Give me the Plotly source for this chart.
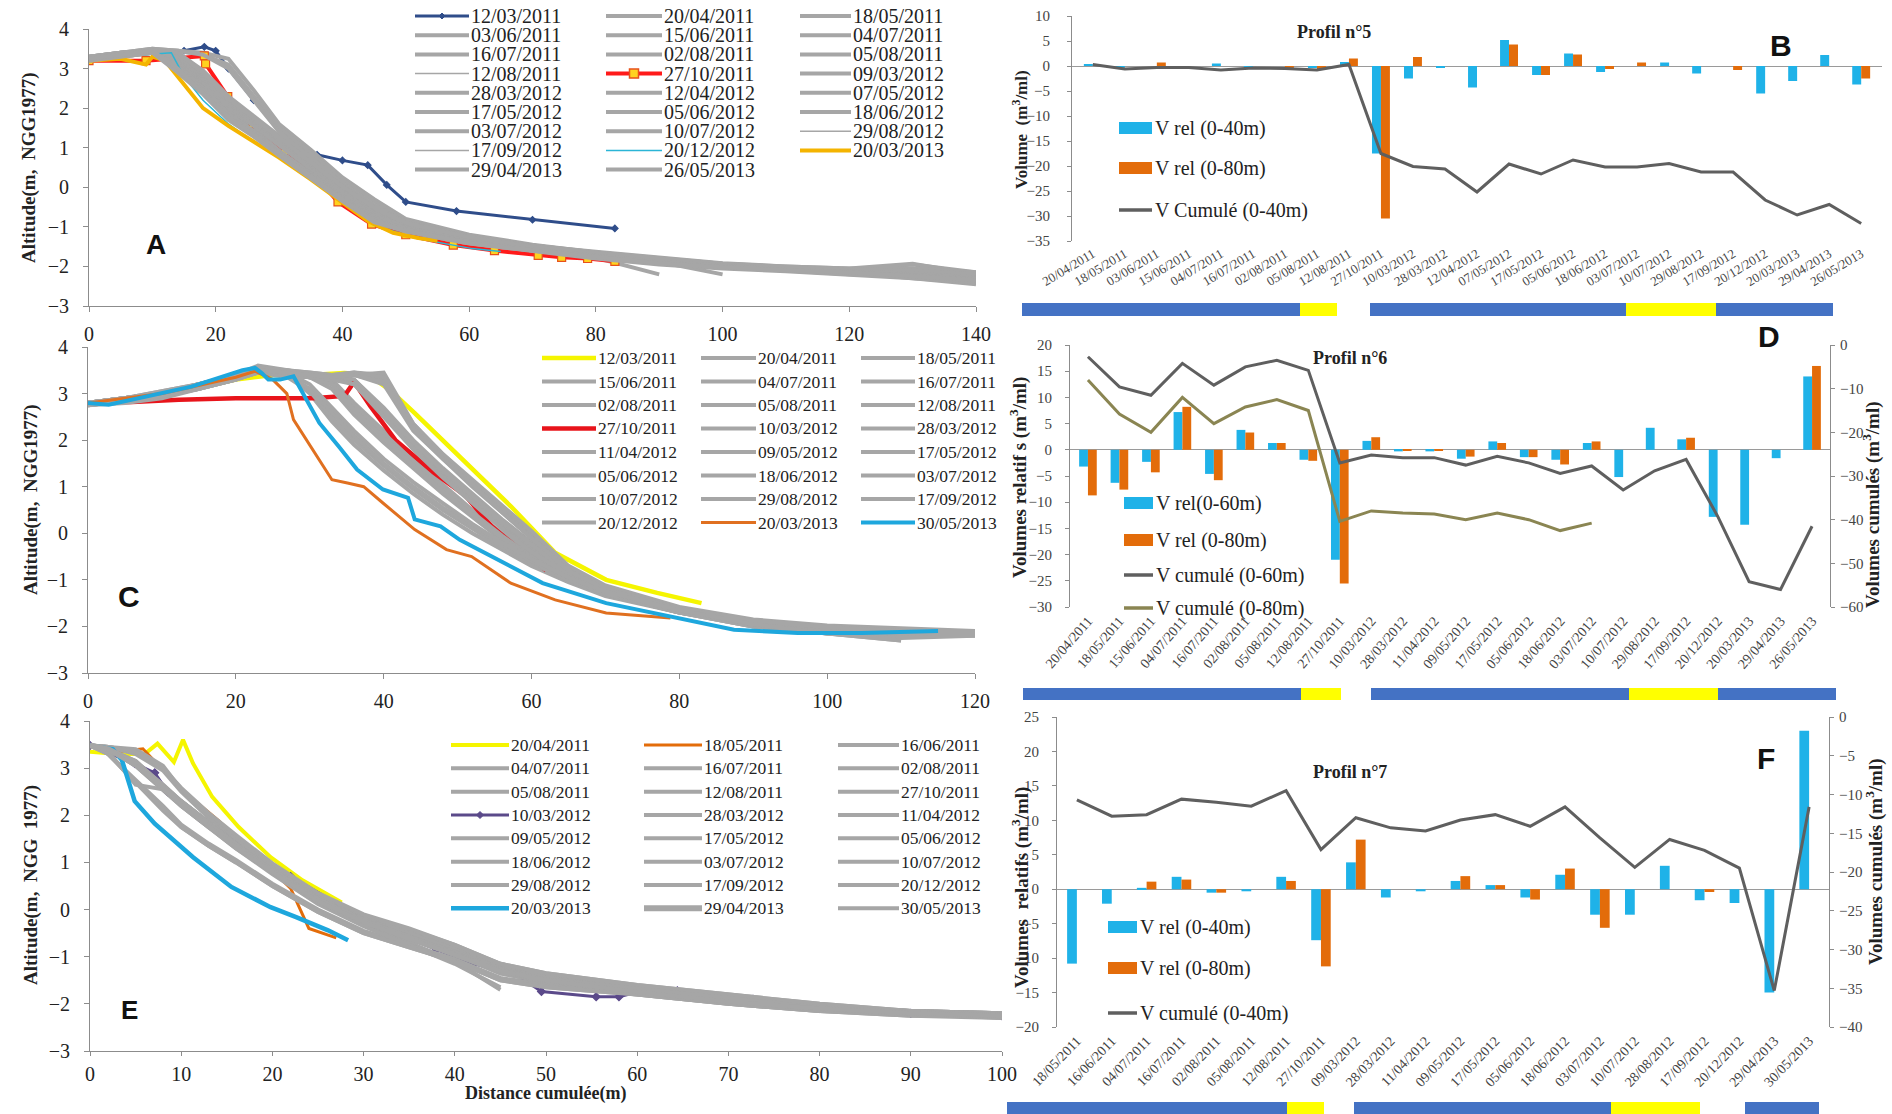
import plotly.graph_objects as go

W, H = 1892, 1114


def fx(p):
    return p / W


def fy(p):
    return 1 - p / H


SERIF = "Liberation Serif"
SANS = "Liberation Sans"
GRAY = "#a6a6a6"
AXC = "#8c8c8c"

# ---------------------------------------------------------------- Panel A data
A_DATES = ["12/03/2011", "20/04/2011", "18/05/2011", "03/06/2011", "15/06/2011", "04/07/2011",
           "16/07/2011", "02/08/2011", "05/08/2011", "12/08/2011", "27/10/2011", "09/03/2012",
           "28/03/2012", "12/04/2012", "07/05/2012", "17/05/2012", "05/06/2012", "18/06/2012",
           "03/07/2012", "10/07/2012", "29/08/2012", "17/09/2012", "20/12/2012", "20/03/2013",
           "29/04/2013", "26/05/2013"]
A_BLUE_X = [0, 5, 10, 15, 18.2, 20, 22, 26, 30, 33, 36, 40, 44, 47, 50, 58, 70, 83]
A_BLUE_Y = [3.2, 3.3, 3.4, 3.45, 3.55, 3.45, 3.0, 2.2, 1.5, 1.05, 0.82, 0.68, 0.56, 0.06, -0.37, -0.6, -0.82, -1.04]
A_RED_X = [0, 9, 18.2, 18.4, 21.9, 25.9, 31, 35.5, 39.3, 44.6, 50, 57.5, 64, 70.9, 74.6, 78.7, 83]
A_RED_Y = [3.2, 3.2, 3.32, 3.12, 2.29, 1.6, 0.93, 0.33, -0.37, -0.93, -1.2, -1.46, -1.6, -1.72, -1.77, -1.8, -1.87]
A_CYAN_X = [0, 8, 13, 15, 18, 22, 26, 30, 35, 40, 45, 52, 60.5, 65]
A_CYAN_Y = [3.25, 3.35, 3.4, 2.8, 2.2, 1.6, 1.15, 0.75, 0.2, -0.4, -0.96, -1.3, -1.55, -1.62]
A_GOLD_X = [0, 5, 9, 10, 12, 15, 18, 22, 26, 30, 35, 40, 44, 48, 52, 55]
A_GOLD_Y = [3.2, 3.25, 3.1, 3.3, 3.2, 2.6, 2.0, 1.55, 1.15, 0.75, 0.2, -0.4, -0.85, -1.15, -1.28, -1.35]

A_GRID = [0, 5, 10, 14, 18, 22, 26, 30, 35, 40, 45, 50, 60, 70, 80, 90, 100, 110, 120, 130, 140]
A_GRAY_DATES = ["20/04/2011", "18/05/2011", "03/06/2011", "15/06/2011", "04/07/2011", "16/07/2011",
                "02/08/2011", "05/08/2011", "12/08/2011", "09/03/2012", "28/03/2012", "12/04/2012",
                "07/05/2012", "17/05/2012", "05/06/2012", "18/06/2012", "03/07/2012", "10/07/2012",
                "29/08/2012", "17/09/2012", "29/04/2013", "26/05/2013"]
A_GRAY_Y = [
    [3.25, 3.35, 3.45, 3.3, 2.8, 2.15, 1.65, 1.15, 0.55, -0.05, -0.6, -0.95, -1.3, -1.52, -1.7, -1.85, -1.95, -2.02, -2.08, -2.12, -2.2],
    [3.2, 3.3, 3.4, 3.15, 2.55, 1.9, 1.45, 0.95, 0.35, -0.2, -0.75, -1.05, -1.38, -1.58, -1.75, -1.9, -2.0, -2.08, -2.12, -2.2, -2.3],
    [3.25, 3.35, 3.45, 3.05, 2.45, 1.8, 1.35, 0.85, 0.3, -0.3, -0.85, -1.1, -1.4, -1.6, -1.78, -1.92, -2.02, -2.1, -2.15, -2.25, -2.4],
    [3.3, 3.4, 3.5, 3.45, 3.4, 3.25, 2.45, 1.6, 0.95, 0.25, -0.3, -0.8, -1.2, -1.45, -1.65, -1.8, -1.93, -2.02, -2.08, -1.95, -2.15],
    [3.2, 3.35, 3.4, 2.95, 2.4, 1.75, 1.3, 0.8, 0.25, -0.35, -0.9, -1.15, -1.42, -1.62, -1.78, -2.2, None, None, None, None, None],
    [3.25, 3.4, 3.45, 3.25, 2.7, 2.05, 1.6, 1.1, 0.5, -0.1, -0.65, -1.0, -1.33, -1.55, -1.72, -1.88, -2.2, None, None, None, None],
    [3.3, 3.4, 3.45, 3.45, 3.35, 3.1, 2.3, 1.5, 0.85, 0.2, -0.35, -0.85, -1.22, -1.47, -1.66, -1.82, -1.95, -2.03, -2.08, -2.18, -2.35],
    [3.2, 3.3, 3.4, 3.1, 2.5, 1.85, 1.4, 0.9, 0.3, -0.25, -0.8, -1.1, -1.4, -1.6, -1.78, -1.93, -2.0, -2.1, -2.15, -2.3, -2.45],
    [3.25, 3.35, 3.4, 3.2, 2.6, 1.95, 1.5, 1.0, 0.4, -0.15, -0.7, -1.05, -1.37, -1.57, -1.73, -1.88, -1.97, -2.05, -2.1, -2.15, -2.2],
    [3.2, 3.35, 3.45, 3.35, 2.85, 2.2, 1.7, 1.2, 0.6, 0.0, -0.55, -0.92, -1.28, -1.5, -1.68, -1.84, -1.95, -2.03, -2.08, -2.05, -2.3],
    [3.25, 3.35, 3.4, 3.2, 2.65, 2.0, 1.55, 1.05, 0.45, -0.1, -0.65, -1.0, -1.35, -1.55, -1.74, -1.9, -2.0, -2.08, -2.13, -2.2, -2.35],
    [3.3, 3.4, 3.45, 3.4, 2.95, 2.3, 1.8, 1.3, 0.65, 0.05, -0.5, -0.88, -1.25, -1.47, -1.65, -1.8, -1.93, -2.0, -2.05, -1.93, -2.2],
    [3.2, 3.35, 3.4, 3.05, 2.45, 1.8, 1.35, 0.88, 0.3, -0.28, -0.82, -1.1, -1.4, -1.6, -1.76, -1.9, -2.0, -2.1, -2.15, -2.2, -2.3],
    [3.25, 3.35, 3.45, 3.3, 2.75, 2.1, 1.62, 1.12, 0.5, -0.08, -0.62, -0.98, -1.32, -1.53, -1.7, -1.86, -1.96, -2.04, -2.1, -2.15, -2.25],
    [3.3, 3.4, 3.5, 3.45, 3.35, 3.0, 2.2, 1.4, 0.75, 0.1, -0.45, -0.9, -1.25, -1.48, -1.63, -1.78, -1.92, -2.0, -2.05, -2.05, -2.15],
    [3.2, 3.3, 3.4, 3.1, 2.5, 1.85, 1.42, 0.92, 0.35, -0.22, -0.78, -1.08, -1.38, -1.58, -1.76, -1.9, -2.0, -2.1, -2.2, -2.25, -2.4],
    [3.25, 3.35, 3.45, 3.3, 2.7, 2.05, 1.58, 1.08, 0.48, -0.12, -0.68, -1.02, -1.35, -1.56, -1.72, -1.88, -1.98, -2.08, -2.13, -2.2, -2.3],
    [3.3, 3.4, 3.45, 3.4, 2.9, 2.25, 1.75, 1.25, 0.62, 0.02, -0.52, -0.9, -1.27, -1.5, -1.66, -1.8, -1.94, -2.03, -2.08, -2.1, -2.2],
    [3.2, 3.3, 3.4, 3.15, 2.55, 1.9, 1.45, 0.95, 0.38, -0.18, -0.72, -1.05, -1.37, -1.6, -1.75, -1.9, -2.0, -2.1, -2.15, -2.2, -2.25],
    [3.25, 3.35, 3.4, 3.25, 2.7, 2.05, 1.6, 1.1, 0.5, -0.08, -0.62, -1.0, -1.33, -1.55, -1.7, -1.85, -1.95, -2.05, -2.1, -2.15, -2.25],
    [3.2, 3.3, 3.4, 2.9, 2.35, 1.7, 1.28, 0.8, 0.22, -0.35, -0.88, -1.12, -1.42, -1.62, -1.8, -1.95, -2.05, -2.12, -2.2, -2.3, -2.4],
    [3.25, 3.35, 3.45, 3.0, 2.4, 1.78, 1.32, 0.84, 0.27, -0.3, -0.85, -1.1, -1.4, -1.6, -1.77, -1.92, -2.02, -2.1, -2.15, -2.25, -2.35],
]

# ---------------------------------------------------------------- Panel C data
C_DATES = ["12/03/2011", "20/04/2011", "18/05/2011", "15/06/2011", "04/07/2011", "16/07/2011",
           "02/08/2011", "05/08/2011", "12/08/2011", "27/10/2011", "10/03/2012", "28/03/2012",
           "11/04/2012", "09/05/2012", "17/05/2012", "05/06/2012", "18/06/2012", "03/07/2012",
           "10/07/2012", "29/08/2012", "17/09/2012", "20/12/2012", "20/03/2013", "30/05/2013"]
C_YELLOW_X = [0, 10, 20, 25, 30, 34.7, 38, 40.8, 44.2, 50.3, 57.2, 63.2, 70.1, 77, 83]
C_YELLOW_Y = [2.8, 2.95, 3.3, 3.4, 3.4, 3.44, 3.4, 3.08, 2.58, 1.65, 0.58, -0.42, -1.0, -1.28, -1.5]
C_RED_X = [0, 6, 12.3, 20, 30.4, 34.7, 36, 38.2, 41.6, 46.8, 51.1, 54.6, 58, 62]
C_RED_Y = [2.8, 2.82, 2.87, 2.9, 2.9, 2.95, 3.25, 2.73, 2.0, 1.3, 0.8, 0.15, -0.3, -0.8]
C_ORANGE_X = [0, 10, 20, 22.6, 25, 26.9, 27.8, 30.4, 33, 35.1, 37.3, 39.9, 44.2, 48.5, 51.9, 57.2, 63.2, 70.1, 78.8]
C_ORANGE_Y = [2.8, 3.0, 3.35, 3.48, 3.3, 3.0, 2.44, 1.8, 1.15, 1.08, 1.0, 0.65, 0.08, -0.35, -0.5, -1.07, -1.43, -1.71, -1.82]
C_CYAN_X = [0, 2.8, 14, 20.9, 22.6, 23.5, 24.4, 26, 27.8, 29.1, 31.3, 33.9, 36.4, 39.9, 42.5, 43.3, 44.2,
            47.7, 50.3, 55.4, 61.5, 70.1, 78.8, 87.4, 96, 104.7, 115]
C_CYAN_Y = [2.8, 2.76, 3.15, 3.5, 3.55, 3.44, 3.3, 3.3, 3.37, 3.0, 2.37, 1.87, 1.37, 0.94, 0.8, 0.76, 0.3,
            0.15, -0.14, -0.57, -1.07, -1.5, -1.78, -2.07, -2.14, -2.14, -2.1]

C_GRID = [0, 5, 10, 15, 20, 23, 27, 30, 33, 36, 40, 44, 48, 52, 56, 60, 65, 70, 80, 90, 100, 110, 120]
C_GRAY_DATES = ["20/04/2011", "18/05/2011", "15/06/2011", "04/07/2011", "16/07/2011", "02/08/2011",
                "05/08/2011", "12/08/2011", "10/03/2012", "28/03/2012", "11/04/2012", "09/05/2012",
                "17/05/2012", "05/06/2012", "18/06/2012", "03/07/2012", "10/07/2012", "29/08/2012",
                "17/09/2012", "20/12/2012"]
C_GRAY_Y = [
    [2.8, 2.9, 3.0, 3.15, 3.35, 3.5, 3.45, 3.4, 3.4, 3.4, 3.45, 2.35, 1.7, 1.1, 0.55, 0.0, -0.75, -1.15, -1.6, -1.88, -2.02, -2.1, -2.15],
    [2.8, 2.85, 2.95, 3.1, 3.3, 3.45, 3.4, 3.35, 3.35, 3.3, 2.7, 2.0, 1.4, 0.85, 0.3, -0.2, -0.8, -1.2, -1.62, -1.9, -2.05, -2.15, -2.15],
    [2.75, 2.85, 2.95, 3.1, 3.35, 3.5, 3.4, 3.0, 2.4, 1.9, 1.35, 0.85, 0.4, 0.0, -0.35, -0.7, -1.05, -1.35, -1.7, -2.0, -2.15, -2.25, None],
    [2.8, 2.9, 3.0, 3.2, 3.4, 3.55, 3.45, 3.4, 3.3, 2.8, 2.2, 1.6, 1.05, 0.5, 0.0, -0.45, -0.9, -1.25, -1.65, -1.95, -2.1, -2.2, -2.15],
    [2.8, 2.9, 3.05, 3.2, 3.4, 3.55, 3.5, 3.45, 3.4, 3.45, 3.4, 2.3, 1.65, 1.05, 0.5, -0.05, -0.78, -1.18, -1.6, -1.88, -2.0, -2.1, -2.1],
    [2.75, 2.85, 2.95, 3.15, 3.35, 3.5, 3.45, 3.4, 3.35, 3.25, 2.6, 1.9, 1.3, 0.75, 0.2, -0.3, -0.85, -1.22, -1.62, -1.9, -2.05, -2.15, -2.15],
    [2.8, 2.85, 3.0, 3.15, 3.35, 3.5, 3.4, 3.35, 3.2, 2.7, 2.1, 1.5, 0.95, 0.4, -0.1, -0.55, -0.95, -1.3, -1.7, -2.0, -2.1, -2.2, None],
    [2.8, 2.9, 3.0, 3.2, 3.4, 3.5, 3.45, 3.4, 3.4, 3.4, 3.3, 2.3, 1.65, 1.1, 0.5, -0.05, -0.75, -1.15, -1.6, -1.88, -2.02, -2.1, -2.15],
    [2.8, 2.9, 3.0, 3.2, 3.4, 3.6, 3.5, 3.4, 3.25, 2.75, 2.15, 1.55, 1.0, 0.45, -0.05, -0.5, -0.95, -1.3, -1.7, -1.95, -2.1, -2.2, -2.15],
    [2.75, 2.8, 2.9, 3.1, 3.3, 3.45, 3.35, 3.05, 2.5, 2.0, 1.45, 0.95, 0.5, 0.1, -0.3, -0.65, -1.0, -1.3, -1.7, -2.0, -2.15, -2.3, None],
    [2.8, 2.9, 3.0, 3.15, 3.4, 3.55, 3.45, 3.4, 3.35, 3.2, 2.55, 1.85, 1.25, 0.7, 0.15, -0.35, -0.85, -1.2, -1.62, -1.9, -2.05, -2.15, -2.15],
    [2.8, 2.9, 3.0, 3.2, 3.35, 3.5, 3.45, 3.4, 3.35, 3.4, 3.2, 2.2, 1.6, 1.0, 0.45, -0.1, -0.8, -1.2, -1.62, -1.9, -2.02, -2.1, -2.1],
    [2.75, 2.85, 3.0, 3.15, 3.35, 3.5, 3.4, 3.35, 3.1, 2.55, 1.95, 1.4, 0.85, 0.35, -0.15, -0.6, -1.0, -1.3, -1.7, -1.95, -2.1, -2.2, -2.2],
    [2.8, 2.9, 3.0, 3.2, 3.4, 3.55, 3.5, 3.45, 3.4, 3.3, 2.65, 1.95, 1.35, 0.8, 0.25, -0.25, -0.8, -1.18, -1.6, -1.9, -2.05, -2.15, -2.1],
    [2.8, 2.85, 2.95, 3.15, 3.35, 3.5, 3.4, 3.1, 2.6, 2.1, 1.5, 1.0, 0.55, 0.15, -0.25, -0.6, -1.0, -1.3, -1.65, -1.95, -2.15, -2.25, -2.2],
    [2.8, 2.9, 3.05, 3.2, 3.4, 3.5, 3.45, 3.4, 3.4, 3.45, 3.35, 2.35, 1.7, 1.15, 0.6, 0.05, -0.7, -1.12, -1.58, -1.85, -1.98, -2.05, -2.1],
    [2.8, 2.9, 3.0, 3.2, 3.4, 3.5, 3.45, 3.35, 3.2, 2.65, 2.05, 1.45, 0.9, 0.4, -0.1, -0.55, -0.95, -1.25, -1.65, -1.95, -2.1, -2.15, -2.15],
    [2.8, 2.85, 2.95, 3.1, 3.3, 3.45, 3.4, 3.35, 3.3, 3.2, 2.5, 1.8, 1.2, 0.65, 0.1, -0.4, -0.88, -1.22, -1.62, -1.95, -2.1, -2.15, -2.15],
    [2.8, 2.9, 3.0, 3.15, 3.35, 3.5, 3.45, 3.4, 3.35, 3.4, 3.25, 2.25, 1.6, 1.05, 0.45, -0.1, -0.8, -1.2, -1.62, -1.88, -2.02, -2.1, -2.1],
    [2.75, 2.85, 2.95, 3.1, 3.3, 3.5, 3.45, 3.2, 2.7, 2.2, 1.6, 1.1, 0.65, 0.2, -0.2, -0.55, -0.95, -1.25, -1.65, -1.95, -2.15, -2.3, None],
]

# ---------------------------------------------------------------- Panel E data
E_DATES = ["20/04/2011", "18/05/2011", "16/06/2011", "04/07/2011", "16/07/2011", "02/08/2011",
           "05/08/2011", "12/08/2011", "27/10/2011", "10/03/2012", "28/03/2012", "11/04/2012",
           "09/05/2012", "17/05/2012", "05/06/2012", "18/06/2012", "03/07/2012", "10/07/2012",
           "29/08/2012", "17/09/2012", "20/12/2012", "20/03/2013", "29/04/2013", "30/05/2013"]
E_YELLOW_X = [0, 3, 6, 7.4, 9.2, 10.2, 11.3, 13.4, 16.3, 19.8, 23.3, 27.6]
E_YELLOW_Y = [3.35, 3.3, 3.3, 3.52, 3.13, 3.6, 3.1, 2.39, 1.75, 1.11, 0.62, 0.15]
E_ORANGE_X = [0, 3, 5.8, 8, 10, 14, 18, 22, 24, 27]
E_ORANGE_Y = [3.45, 3.35, 3.41, 2.95, 2.55, 1.9, 1.2, 0.45, -0.4, -0.6]
E_PURPLE_X = [0, 4.9, 7.1, 8.5, 12, 15.9, 22, 30, 38, 42, 46.4, 49.5, 55.5, 58, 61, 64.4, 68, 72.7, 80, 90, 100]
E_PURPLE_Y = [3.48, 3.1, 2.9, 2.5, 1.95, 1.47, 0.7, -0.2, -0.85, -1.15, -1.33, -1.74, -1.85, -1.85, -1.7,
              -1.72, -1.85, -1.9, -2.1, -2.2, -2.25]
E_CYAN_X = [0, 2.5, 3.5, 4.2, 4.9, 7.1, 11.3, 15.5, 19.8, 22.6, 26.1, 28.3]
E_CYAN_Y = [3.48, 3.4, 3.17, 2.74, 2.3, 1.82, 1.11, 0.48, 0.05, -0.16, -0.44, -0.65]

E_GRID = [0, 2, 5, 8, 10, 13, 16, 20, 25, 30, 35, 40, 45, 50, 60, 70, 80, 90, 100]
E_GRAY_DATES = ["16/06/2011", "04/07/2011", "16/07/2011", "02/08/2011", "05/08/2011", "12/08/2011",
                "27/10/2011", "28/03/2012", "11/04/2012", "09/05/2012", "17/05/2012", "05/06/2012",
                "18/06/2012", "03/07/2012", "10/07/2012", "29/08/2012", "17/09/2012", "20/12/2012",
                "29/04/2013", "30/05/2013"]
E_GRAY_Y = [
    [3.48, 3.45, 3.35, 3.0, 2.55, 2.0, 1.55, 0.95, 0.3, -0.15, -0.45, -0.8, -1.15, -1.4, -1.65, -1.85, -2.05, -2.15, -2.2],
    [3.48, 3.4, 3.1, 2.6, 2.25, 1.8, 1.35, 0.8, 0.2, -0.25, -0.6, -0.92, -1.3, -1.5, -1.7, -1.9, -2.1, -2.2, -2.25],
    [3.48, 3.4, 3.15, 2.65, 2.3, 1.85, 1.4, 0.85, 0.25, -0.2, -0.55, -0.88, -1.25, -1.45, -1.7, -1.9, -2.05, -2.2, -2.25],
    [3.48, 3.3, 2.7, 2.1, 1.75, 1.35, 1.0, 0.5, -0.05, -0.5, -0.8, -1.1, -1.5, -1.65, -1.8, -2.0, -2.15, -2.25, -2.3],
    [3.48, 3.45, 3.4, 3.05, 2.55, 2.0, 1.5, 0.9, 0.28, -0.18, -0.5, -0.82, -1.2, -1.45, -1.65, -1.85, -2.05, -2.15, -2.2],
    [3.48, 3.4, 3.1, 2.6, 2.2, 1.75, 1.35, 0.8, 0.18, -0.3, -0.7, -1.1, -1.7, None, None, None, None, None, None],
    [3.48, 3.4, 3.05, 2.55, 2.2, 1.75, 1.3, 0.8, 0.2, -0.25, -0.62, -0.95, -1.35, -1.55, -1.75, -1.95, -2.1, -2.2, -2.25],
    [3.48, 3.35, 2.65, 2.55, 2.3, 1.85, 1.4, 0.85, 0.22, -0.25, -0.62, -0.95, -1.3, -1.5, -1.7, -1.9, -2.1, -2.2, -2.25],
    [3.48, 3.45, 3.3, 2.95, 2.5, 1.95, 1.5, 0.9, 0.28, -0.15, -0.48, -0.85, -1.2, -1.4, -1.65, -1.85, -2.05, -2.15, -2.2],
    [3.48, 3.4, 3.1, 2.6, 2.25, 1.8, 1.35, 0.82, 0.2, -0.25, -0.62, -0.95, -1.3, -1.5, -1.75, -1.95, -2.1, -2.2, -2.25],
    [3.48, 3.3, 2.75, 2.2, 1.8, 1.4, 1.05, 0.55, 0.0, -0.45, -0.75, -1.05, -1.45, -1.6, -1.8, -2.0, -2.15, -2.2, -2.3],
    [3.48, 3.4, 3.05, 2.55, 2.2, 1.75, 1.3, 0.75, 0.12, -0.35, -0.75, -1.15, -1.65, None, None, None, None, None, None],
    [3.48, 3.4, 3.1, 2.65, 2.3, 1.85, 1.4, 0.85, 0.22, -0.22, -0.58, -0.9, -1.3, -1.5, -1.7, -1.9, -2.05, -2.2, -2.25],
    [3.48, 3.45, 3.35, 3.0, 2.55, 2.0, 1.52, 0.92, 0.32, -0.12, -0.42, -0.75, -1.15, -1.35, -1.6, -1.8, -2.0, -2.15, -2.2],
    [3.48, 3.4, 3.1, 2.6, 2.22, 1.78, 1.33, 0.8, 0.18, -0.26, -0.62, -0.95, -1.35, -1.55, -1.75, -1.95, -2.1, -2.2, -2.25],
    [3.48, 3.3, 2.7, 2.15, 1.75, 1.35, 1.0, 0.5, -0.05, -0.5, -0.8, -1.1, -1.5, -1.65, -1.8, -2.0, -2.15, -2.25, -2.25],
    [3.48, 3.4, 3.15, 2.65, 2.3, 1.85, 1.38, 0.85, 0.22, -0.22, -0.58, -0.9, -1.25, -1.5, -1.7, -1.9, -2.05, -2.2, -2.2],
    [3.48, 3.45, 3.35, 3.0, 2.58, 2.05, 1.58, 0.98, 0.35, -0.1, -0.4, -0.75, -1.15, -1.35, -1.6, -1.8, -2.0, -2.15, -2.2],
    [3.48, 3.4, 3.1, 2.6, 2.25, 1.8, 1.35, 0.82, 0.2, -0.25, -0.6, -0.92, -1.3, -1.5, -1.7, -1.9, -2.1, -2.2, -2.25],
    [3.48, 3.4, 3.05, 2.6, 2.22, 1.78, 1.32, 0.8, 0.18, -0.26, -0.62, -0.95, -1.3, -1.5, -1.75, -1.95, -2.1, -2.2, -2.25],
]

# ---------------------------------------------------------------- Panel B data
B_CATS = ["20/04/2011", "18/05/2011", "03/06/2011", "15/06/2011", "04/07/2011", "16/07/2011",
          "02/08/2011", "05/08/2011", "12/08/2011", "27/10/2011", "10/03/2012", "28/03/2012",
          "12/04/2012", "07/05/2012", "17/05/2012", "05/06/2012", "18/06/2012", "03/07/2012",
          "10/07/2012", "29/08/2012", "17/09/2012", "20/12/2012", "20/03/2013", "29/04/2013", "26/05/2013"]
B_V40 = [0.3, -0.5, 0, -0.5, 0.5, -0.3, 0, -0.3, 0.8, -17.5, -2.5, -0.3, -4.3, 5.2, -1.8, 2.5, -1.2, 0,
         0.7, -1.5, 0, -5.5, -3.0, 2.2, -3.7]
B_V80 = [0, 0, 0.7, 0, 0, 0, -0.8, -0.6, 1.5, -30.5, 1.8, 0, 0, 4.3, -1.8, 2.3, -0.6, 0.7, 0, 0, -0.8,
         0, 0, 0, -2.5]
B_CUM40 = [0.3, -0.6, -0.3, -0.3, -0.8, -0.4, -0.5, -0.8, 0.3, -17.5, -20.1, -20.6, -25.2, -19.6, -21.6,
           -18.8, -20.2, -20.2, -19.5, -21.2, -21.2, -26.8, -29.8, -27.7, -31.5]

# ---------------------------------------------------------------- Panel D data
D_CATS = ["20/04/2011", "18/05/2011", "15/06/2011", "04/07/2011", "16/07/2011", "02/08/2011",
          "05/08/2011", "12/08/2011", "27/10/2011", "10/03/2012", "28/03/2012", "11/04/2012",
          "09/05/2012", "17/05/2012", "05/06/2012", "18/06/2012", "03/07/2012", "10/07/2012",
          "29/08/2012", "17/09/2012", "20/12/2012", "20/03/2013", "29/04/2013", "26/05/2013"]
D_V60 = [-3.2, -6.3, -2.3, 7.2, -4.6, 3.8, 1.3, -1.9, -21, 1.7, -0.3, -0.3, -1.7, 1.6, -1.4, -1.9, 1.3,
         -5.2, 4.2, 2.0, -12.8, -14.3, -1.6, 14]
D_V80 = [-8.7, -7.6, -4.3, 8.2, -5.8, 3.3, 1.3, -2.1, -25.5, 2.4, -0.2, -0.2, -1.3, 1.3, -1.4, -2.8, 1.6,
         0, 0, 2.3, 0, 0, 0, 16]
D_CUM60 = [-2.7, -9.6, -11.5, -4.2, -9.2, -5.0, -3.5, -5.8, -27, -25.2, -25.8, -25.8, -27.5, -25.5, -27,
           -29.4, -27.7, -33.2, -28.8, -26.2, -39.2, -54.2, -56, -41.5]
D_CUM80 = [-8, -15.8, -20, -12, -18, -14.2, -12.5, -15, -40.4, -38, -38.5, -38.7, -40, -38.5, -40, -42.5,
           -40.8, None, None, None, None, None, None, None]

# ---------------------------------------------------------------- Panel F data
F_CATS = ["18/05/2011", "16/06/2011", "04/07/2011", "16/07/2011", "02/08/2011", "05/08/2011",
          "12/08/2011", "27/10/2011", "09/03/2012", "28/03/2012", "11/04/2012", "09/05/2012",
          "17/05/2012", "05/06/2012", "18/06/2012", "03/07/2012", "10/07/2012", "28/08/2012",
          "17/09/2012", "20/12/2012", "29/04/2013", "30/05/2013"]
F_V40 = [-10.8, -2.1, 0.2, 1.8, -0.5, -0.3, 1.8, -7.4, 3.9, -1.2, -0.3, 1.2, 0.6, -1.2, 2.1, -3.7, -3.7,
         3.4, -1.6, -2.0, -15, 23]
F_V80 = [0, 0, 1.1, 1.4, -0.5, 0, 1.2, -11.2, 7.2, 0, 0, 1.9, 0.6, -1.5, 3.0, -5.6, 0, 0, -0.4, 0, 0, 0]
F_CUM40 = [-10.7, -12.8, -12.6, -10.6, -11.0, -11.5, -9.5, -17.1, -13.0, -14.3, -14.7, -13.3, -12.6, -14.1,
           -11.6, -15.6, -19.4, -15.8, -17.2, -19.5, -35.3, -11.6]

# ---------------------------------------------------------------- styles
THIN = dict(color=GRAY, width=1.5)
THICK_GRAY = dict(color=GRAY, width=4)
A_STYLE = {
    "12/03/2011": dict(color="#2f4d8a", width=3, symbol="diamond", msize=5, mcolor="#2f4d8a", mline="#2f4d8a"),
    "27/10/2011": dict(color="#ff1a1a", width=4, symbol="square", msize=8, mcolor="#ffd21f", mline="#e8501a"),
    "20/12/2012": dict(color="#2bb5d6", width=1.5),
    "20/03/2013": dict(color="#f4b400", width=4),
    "12/08/2011": THIN, "29/08/2012": THIN, "17/09/2012": THIN,
}
C_STYLE = {
    "12/03/2011": dict(color="#f5f500", width=4.5),
    "27/10/2011": dict(color="#e8141b", width=4.5),
    "20/03/2013": dict(color="#e07020", width=3),
    "30/05/2013": dict(color="#1ea7dd", width=4),
}
E_STYLE = {
    "20/04/2011": dict(color="#f5f500", width=4),
    "18/05/2011": dict(color="#e36c0a", width=3),
    "10/03/2012": dict(color="#5b4a8a", width=3, symbol="diamond", msize=6, mcolor="#5b4a8a", mline="#5b4a8a"),
    "20/03/2013": dict(color="#1ea7dd", width=4.5),
    "29/04/2013": dict(color=GRAY, width=6),
}
C_BLUE = "#1fb2e8"
C_ORNG = "#e36c0a"
C_DARK = "#5f5f5f"
C_OLIVE = "#8a8552"

fig = go.Figure()


def add_profiles(dates, colored, grid, gray_dates, gray_y, style, xa, ya):
    for d in dates:
        st = style.get(d, THICK_GRAY)
        if d in colored:
            xs, ys = colored[d]
        else:
            xs, ys = grid, gray_y[gray_dates.index(d)]
        mk = "symbol" in st
        fig.add_trace(go.Scatter(
            x=xs, y=ys, name=d, mode="lines+markers" if mk else "lines",
            line=dict(color=st["color"], width=st["width"]),
            marker=dict(symbol=st.get("symbol", "circle"), size=st.get("msize", 6),
                        color=st.get("mcolor", st["color"]),
                        line=dict(color=st.get("mline", st["color"]), width=1.2)),
            xaxis=xa, yaxis=ya, showlegend=False, connectgaps=False))


add_profiles(A_DATES, {"12/03/2011": (A_BLUE_X, A_BLUE_Y), "27/10/2011": (A_RED_X, A_RED_Y),
                       "20/12/2012": (A_CYAN_X, A_CYAN_Y), "20/03/2013": (A_GOLD_X, A_GOLD_Y)},
             A_GRID, A_GRAY_DATES, A_GRAY_Y, A_STYLE, "x", "y")
add_profiles(C_DATES, {"12/03/2011": (C_YELLOW_X, C_YELLOW_Y), "27/10/2011": (C_RED_X, C_RED_Y),
                       "20/03/2013": (C_ORANGE_X, C_ORANGE_Y), "30/05/2013": (C_CYAN_X, C_CYAN_Y)},
             C_GRID, C_GRAY_DATES, C_GRAY_Y, C_STYLE, "x2", "y2")
add_profiles(E_DATES, {"20/04/2011": (E_YELLOW_X, E_YELLOW_Y), "18/05/2011": (E_ORANGE_X, E_ORANGE_Y),
                       "10/03/2012": (E_PURPLE_X, E_PURPLE_Y), "20/03/2013": (E_CYAN_X, E_CYAN_Y)},
             E_GRID, E_GRAY_DATES, E_GRAY_Y, E_STYLE, "x3", "y3")

# bars + cumulated lines
fig.add_trace(go.Bar(x=B_CATS, y=B_V40, name="V rel (0-40m)", marker_color=C_BLUE, xaxis="x4", yaxis="y4", showlegend=False))
fig.add_trace(go.Bar(x=B_CATS, y=B_V80, name="V rel (0-80m)", marker_color=C_ORNG, xaxis="x4", yaxis="y4", showlegend=False))
fig.add_trace(go.Scatter(x=B_CATS, y=B_CUM40, name="V Cumulé (0-40m)", mode="lines", line=dict(color=C_DARK, width=3),
                         xaxis="x4", yaxis="y4", showlegend=False))

fig.add_trace(go.Bar(x=D_CATS, y=D_V60, name="V rel(0-60m)", marker_color=C_BLUE, xaxis="x5", yaxis="y5", showlegend=False))
fig.add_trace(go.Bar(x=D_CATS, y=D_V80, name="V rel (0-80m)", marker_color=C_ORNG, xaxis="x5", yaxis="y5", showlegend=False))
fig.add_trace(go.Scatter(x=D_CATS, y=D_CUM60, name="V cumulé (0-60m)", mode="lines", line=dict(color=C_DARK, width=3),
                         xaxis="x5", yaxis="y6", showlegend=False))
fig.add_trace(go.Scatter(x=D_CATS, y=D_CUM80, name="V cumulé (0-80m)", mode="lines", line=dict(color=C_OLIVE, width=3),
                         xaxis="x5", yaxis="y6", showlegend=False, connectgaps=False))

fig.add_trace(go.Bar(x=F_CATS, y=F_V40, name="V rel (0-40m)", marker_color=C_BLUE, xaxis="x6", yaxis="y7", showlegend=False))
fig.add_trace(go.Bar(x=F_CATS, y=F_V80, name="V rel (0-80m)", marker_color=C_ORNG, xaxis="x6", yaxis="y7", showlegend=False))
fig.add_trace(go.Scatter(x=F_CATS, y=F_CUM40, name="V cumulé (0-40m)", mode="lines", line=dict(color=C_DARK, width=3),
                         xaxis="x6", yaxis="y8", showlegend=False))

# ---------------------------------------------------------------- axes
TF_L = dict(family=SERIF, size=20, color="#222")
TF_R = dict(family=SERIF, size=15, color="#444")


def lin_axis(x0, x1, rng, dtick, anchor, font=TF_L, standoff=4, **kw):
    d = dict(domain=[x0, x1], range=rng, dtick=dtick, anchor=anchor, showline=True, linecolor=AXC,
             linewidth=1, ticks="outside", ticklen=5, tickcolor=AXC, showgrid=False, zeroline=False,
             tickfont=font, ticklabelstandoff=standoff, fixedrange=True, automargin=False)
    d.update(kw)
    return d


def cat_axis(x0, x1, rng, anchor, angle, fsize):
    return dict(domain=[x0, x1], range=rng, type="category", anchor=anchor, showline=False, ticks="",
                showgrid=False, zeroline=False, tickangle=angle,
                tickfont=dict(family=SERIF, size=fsize, color="#444"), ticklabelstandoff=2,
                automargin=False, fixedrange=True)


layout = dict(
    template="none",
    width=W, height=H, margin=dict(l=0, r=0, t=0, b=0, autoexpand=False), paper_bgcolor="white",
    plot_bgcolor="rgba(0,0,0,0)",
    showlegend=False, barmode="group", bargap=0.44, bargroupgap=0.0,
    xaxis=lin_axis(fx(89), fx(976), [0, 140], 20, "y", standoff=5),
    yaxis=lin_axis(fy(306), fy(29), [-3, 4], 1, "x", standoff=10),
    xaxis2=lin_axis(fx(88), fx(975), [0, 120], 20, "y2", standoff=5),
    yaxis2=lin_axis(fy(673), fy(347), [-3, 4], 1, "x2", standoff=10),
    xaxis3=lin_axis(fx(90), fx(1002), [0, 100], 10, "y3", standoff=1, ticklen=4),
    yaxis3=lin_axis(fy(1051), fy(721), [-3, 4], 1, "x3", standoff=10),
    xaxis4=cat_axis(fx(1072), fx(1882), [-0.65, 24.65], "y4", -31, 13),
    yaxis4=lin_axis(fy(241), fy(16), [-35, 10], 5, "x4", font=TF_R, standoff=14,
                    zeroline=True, zerolinecolor="#9a9a9a", zerolinewidth=1, ticklen=4),
    xaxis5=cat_axis(fx(1070), fx(1830), [-0.57, 23.57], "y5", -49, 14),
    yaxis5=lin_axis(fy(607), fy(345), [-30, 20], 5, "x5", font=TF_R, standoff=10,
                    zeroline=True, zerolinecolor="#9a9a9a", zerolinewidth=1, ticklen=4),
    yaxis6=lin_axis(fy(607), fy(345), [-60, 0], 10, "x5", font=TF_R, standoff=2,
                    overlaying="y5", side="right", ticklen=4),
    xaxis6=cat_axis(fx(1057), fx(1829), [-0.57, 21.57], "y7", -46, 14),
    yaxis7=lin_axis(fy(1027), fy(717), [-20, 25], 5, "x6", font=TF_R, standoff=10,
                    zeroline=True, zerolinecolor="#9a9a9a", zerolinewidth=1, ticklen=4),
    yaxis8=lin_axis(fy(1027), fy(717), [-40, 0], 5, "x6", font=TF_R, standoff=2,
                    overlaying="y7", side="right", ticklen=4),
)
fig.update_layout(**layout)

shapes = []
annotations = []


def seg(x0, y0, x1, y1, color, width):
    return dict(type="line", xref="paper", yref="paper", x0=fx(x0), y0=fy(y0), x1=fx(x1), y1=fy(y1),
                line=dict(color=color, width=width), layer="above")


def text(x, y, s, size, family=SERIF, bold=False, xanchor="left", angle=0, color="#222"):
    annotations.append(dict(x=fx(x), y=fy(y), xref="paper", yref="paper", text=f"<b>{s}</b>" if bold else s,
                            showarrow=False, xanchor=xanchor, yanchor="middle", textangle=angle,
                            font=dict(family=family, size=size, color=color)))


def marker_shape(cx, cy, st):
    s = st["msize"] / 2 + 0.5
    if st["symbol"] == "square":
        shapes.append(dict(type="rect", xref="paper", yref="paper", x0=fx(cx - s), x1=fx(cx + s),
                           y0=fy(cy + s), y1=fy(cy - s), fillcolor=st["mcolor"],
                           line=dict(color=st["mline"], width=1.5)))
    else:
        path = (f"M {fx(cx)} {fy(cy - s)} L {fx(cx + s)} {fy(cy)} L {fx(cx)} {fy(cy + s)} "
                f"L {fx(cx - s)} {fy(cy)} Z")
        shapes.append(dict(type="path", xref="paper", yref="paper", path=path, fillcolor=st["mcolor"],
                           line=dict(color=st["mline"], width=1)))


def profile_legend(dates, style, sample_x, text_x, rows, size):
    for i, d in enumerate(dates):
        r, c = divmod(i, 3)
        st = style.get(d, THICK_GRAY)
        y = rows[r]
        shapes.append(seg(sample_x[c][0], y, sample_x[c][1], y, st["color"], st["width"]))
        if "symbol" in st:
            marker_shape((sample_x[c][0] + sample_x[c][1]) / 2, y, st)
        text(text_x[c], y, d, size)


profile_legend(A_DATES, A_STYLE, [(415, 469), (606, 662), (800, 851)], [469, 662, 851],
               [16, 35.2, 54.4, 73.6, 92.8, 112, 131.2, 150.4, 169.6], 20)
profile_legend(C_DATES, C_STYLE, [(542, 596), (701, 756), (861, 915)], [596, 756, 915],
               [358, 381.5, 405, 428.5, 452, 475.5, 499, 522.5], 17.5)
profile_legend(E_DATES, E_STYLE, [(451, 509), (644, 702), (838, 899)], [509, 702, 899],
               [745, 768.3, 791.7, 815, 838.3, 861.7, 885, 908.3], 17.5)


def box_legend(entries, x0, x1, tx, size):
    for label, color, kind, y in entries:
        if kind == "bar":
            shapes.append(dict(type="rect", xref="paper", yref="paper", x0=fx(x0), x1=fx(x1),
                               y0=fy(y + 6), y1=fy(y - 6), fillcolor=color, line=dict(width=0)))
        else:
            shapes.append(seg(x0, y, x1, y, color, 3.5))
        text(tx, y, label, size)


box_legend([("V rel (0-40m)", C_BLUE, "bar", 128), ("V rel (0-80m)", C_ORNG, "bar", 168),
            ("V Cumulé (0-40m)", C_DARK, "line", 210)], 1119, 1152, 1153, 20)
box_legend([("V rel(0-60m)", C_BLUE, "bar", 503), ("V rel (0-80m)", C_ORNG, "bar", 540),
            ("V cumulé (0-60m)", C_DARK, "line", 575), ("V cumulé (0-80m)", C_OLIVE, "line", 608)],
           1124, 1153, 1154, 20)
box_legend([("V rel (0-40m)", C_BLUE, "bar", 927), ("V rel (0-80m)", C_ORNG, "bar", 968),
            ("V cumulé (0-40m)", C_DARK, "line", 1013)], 1108, 1137, 1138, 20)

# season bars under the volume panels
SEASON_BLUE = "#4472c4"
SEASON_YEL = "#ffff00"
for (y0, y1, segs) in [
    (303, 316, [(1022, 1300, SEASON_BLUE), (1300, 1337, SEASON_YEL), (1370, 1626, SEASON_BLUE),
                (1626, 1716, SEASON_YEL), (1716, 1833, SEASON_BLUE)]),
    (688, 700, [(1023, 1301, SEASON_BLUE), (1301, 1341, SEASON_YEL), (1371, 1629, SEASON_BLUE),
                (1629, 1718, SEASON_YEL), (1718, 1836, SEASON_BLUE)]),
    (1102, 1114, [(1007, 1287, SEASON_BLUE), (1287, 1324, SEASON_YEL), (1354, 1611, SEASON_BLUE),
                  (1611, 1700, SEASON_YEL), (1745, 1819, SEASON_BLUE)]),
]:
    for (a, b, col) in segs:
        shapes.append(dict(type="rect", xref="paper", yref="paper", x0=fx(a), x1=fx(b), y0=fy(y1), y1=fy(y0),
                           fillcolor=col, line=dict(width=0), layer="below"))

# panel letters
for (lx, ly, s, sz) in [(156, 244, "A", 28), (1781, 46, "B", 30), (129, 596, "C", 30),
                        (1769, 336, "D", 30), (129, 1010, "E", 26), (1766, 758, "F", 30)]:
    text(lx, ly, s, sz, family=SANS, bold=True, xanchor="center", color="#111")

# subplot titles
text(1334, 32, "Profil n°5", 18, bold=True, xanchor="center")
text(1350, 358, "Profil n°6", 18, bold=True, xanchor="center")
text(1350, 772, "Profil n°7", 18, bold=True, xanchor="center")

# axis titles
text(29, 168, "Altitude(m,  NGG1977)", 19, bold=True, xanchor="center", angle=-90)
text(31, 500, "Altitude(m,  NGG1977)", 19, bold=True, xanchor="center", angle=-90)
text(31, 885, "Altitude(m,  NGG  1977)", 19, bold=True, xanchor="center", angle=-90)
text(545, 1093, "Distance cumulée(m)", 18, bold=True, xanchor="center")
text(1020, 130, "Volume  (m<sup>3</sup>/ml)", 17, bold=True, xanchor="center", angle=-90)
text(1018, 478, "Volumes relatif s (m<sup>3</sup>/ml)", 19, bold=True, xanchor="center", angle=-90)
text(1872, 505, "Volumes cumulés (m<sup>3</sup>/ml)", 19, bold=True, xanchor="center", angle=-90)
text(1020, 888, "Volumes  relatifs (m<sup>3</sup>/ml)", 19, bold=True, xanchor="center", angle=-90)
text(1874, 862, "Volumes cumulés (m<sup>3</sup>/ml)", 19, bold=True, xanchor="center", angle=-90)

fig.update_layout(shapes=shapes, annotations=annotations)

fig.write_html("out.html", config={"displayModeBar": False},
               post_script="document.body.style.margin='0';document.body.style.overflow='hidden';")
